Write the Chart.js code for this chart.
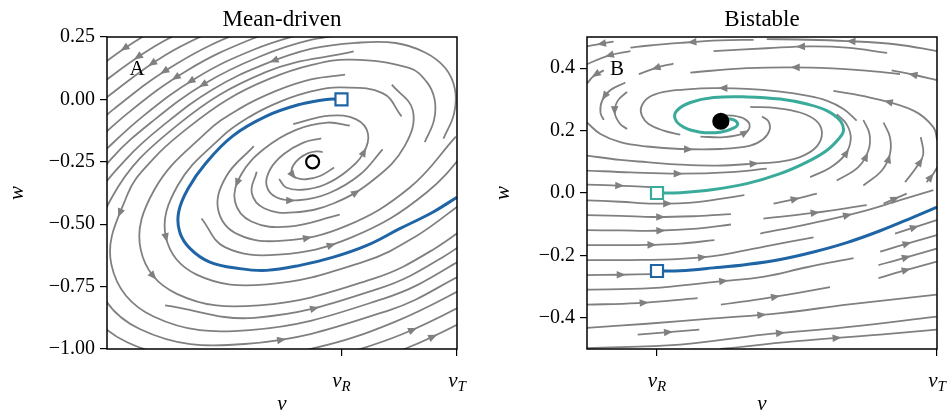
<!DOCTYPE html>
<html>
<head>
<meta charset="utf-8">
<script src="https://cdn.jsdelivr.net/npm/chart.js@4.4.1/dist/chart.umd.min.js"></script>
<style>
  html, body { margin: 0; padding: 0; background: #fff; }
  #wrap { position: relative; width: 949px; height: 416px; overflow: hidden; }
  canvas { position: absolute; top: 0; }
</style>
</head>
<body>
<div id="wrap">
  <canvas id="left" width="474" height="416" style="left:0"></canvas>
  <canvas id="right" width="475" height="416" style="left:474px"></canvas>
</div>
<script>
/* ── ticks ─────────────────────────────────────────── */
const leftYTicks  = [-1, -0.75, -0.5, -0.25, 0, 0.25];
const rightYTicks = [-0.4, -0.2, 0, 0.2, 0.4];
const xTickValues = [0, 1];            // v_R, v_T
const xTickSubs   = ['R', 'T'];

/* ── left panel: mean-driven ───────────────────────── */
const leftFixedPoint = [[-0.25, -0.25]];
const leftStart = [[0, 0]];
const leftTrajectory = [[0,0],[-0.13,0],[-0.36,-0.02],[-0.65,-0.067],[-0.94,-0.146],[-1.17,-0.253],[-1.33,-0.359],[-1.41,-0.452],[-1.40,-0.532],[-1.31,-0.598],[-1.14,-0.652],[-0.88,-0.678],[-0.65,-0.685],[-0.36,-0.665],[-0.07,-0.632],[0.22,-0.585],[0.50,-0.519],[0.79,-0.452],[1.0,-0.392]];
const leftStreams = [
  [[-0.163,-0.211],[-0.216,-0.208],[-0.288,-0.215],[-0.363,-0.236],[-0.417,-0.264],[-0.432,-0.293],[-0.393,-0.314],[-0.307,-0.320],[-0.186,-0.307],[-0.064,-0.273]],
  [[-0.540,-0.319],[-0.480,-0.353],[-0.340,-0.362],[-0.148,-0.342],[0.048,-0.287],[0.191,-0.214],[0.229,-0.137],[0.128,-0.080],[-0.101,-0.065],[-0.418,-0.099]],
  [[-0.175,-0.156],[-0.335,-0.174],[-0.499,-0.219],[-0.617,-0.280],[-0.649,-0.344],[-0.565,-0.392],[-0.374,-0.404],[-0.110,-0.376],[0.161,-0.301],[0.356,-0.200]],
  [[-0.734,-0.290],[-0.777,-0.375],[-0.666,-0.437],[-0.414,-0.453],[-0.065,-0.416],[0.291,-0.317],[0.549,-0.185],[0.618,-0.045],[0.436,0.059]],
  [[0.072,-0.105],[-0.123,-0.093],[-0.393,-0.122],[-0.669,-0.198],[-0.868,-0.301],[-0.922,-0.409],[-0.780,-0.489],[-0.459,-0.510],[-0.015,-0.462]],
  [[-0.759,-0.187],[-1.001,-0.311],[-1.067,-0.443],[-0.896,-0.541],[-0.504,-0.566],[0.036,-0.508],[0.589,-0.354],[0.990,-0.149]],
  [[-1.212,-0.477],[-1.010,-0.592],[-0.550,-0.622],[0.087,-0.553],[0.739,-0.372],[1.21,-0.131]],
  [[0.520,-0.068],[0.359,0.024],[-0.010,0.048],[-0.254,0.033],[-0.520,-0.007],[-0.789,-0.068],[-1.041,-0.152],[-1.419,-0.346],[-1.521,-0.550],[-1.254,-0.702],[-0.646,-0.741],[0.195,-0.650],[0.639,-0.550],[1.056,-0.411]],
  [[0.031,0.099],[-0.255,0.081],[-0.566,0.034],[-0.881,-0.037],[-1.177,-0.135],[-1.620,-0.362],[-1.738,-0.602],[-1.426,-0.779],[-0.713,-0.825],[0.271,-0.719],[0.792,-0.602],[1.279,-0.439]],
  [[-1.527,-0.825],[-0.753,-0.875],[0.316,-0.759],[0.880,-0.631],[1.41,-0.455]],
  [[0.721,-0.171],[0.801,-0.083],[0.806,0.000],[0.736,0.071],[0.585,0.126],[0.079,0.159],[-0.256,0.138],[-0.620,0.083],[-0.989,-0.001],[-1.335,-0.116],[-1.633,-0.240],[-1.853,-0.381],[-1.992,-0.662],[-1.627,-0.870],[-0.793,-0.924],[0.360,-0.799],[0.969,-0.661],[1.541,-0.471]],
  [[0.106,0.192],[-0.651,0.110],[-1.426,-0.105],[-1.987,-0.392],[-2.138,-0.696],[-1.742,-0.921],[-0.838,-0.980],[0.411,-0.845],[1.071,-0.696]],
  [[0.883,-0.157],[0.975,-0.056],[0.982,0.041],[0.900,0.125],[0.724,0.188],[0.469,0.226],[0.134,0.227],[-0.257,0.203],[-0.681,0.138],[-1.112,0.041],[-1.517,-0.094],[-1.864,-0.239],[-2.120,-0.403],[-2.283,-0.730],[-1.856,-0.973],[-0.883,-1.036],[-0.239,-0.997],[0.462,-0.891],[1.173,-0.730]],
  [[0.165,0.265],[-0.257,0.239],[-0.716,0.170],[-1.182,0.064],[-1.618,-0.081],[-1.993,-0.238],[-2.271,-0.415]],
  [[-0.238,-1.057],[0.519,-0.942],[1.287,-0.769]],
  [[-0.258,0.275],[-0.751,0.201],[-1.251,0.088],[-1.720,-0.068],[-2.123,-0.237]],
  [[-0.237,-1.117],[0.577,-0.994],[1.401,-0.807]],
  [[-0.259,0.320],[-0.793,0.239],[-1.336,0.116],[-1.844,-0.053],[-2.281,-0.236]],
  [[-0.26,0.364],[-0.836,0.277],[-1.420,0.145],[-1.969,-0.038],[-2.44,-0.235]],
  [[-0.886,0.322],[-1.520,0.179],[-2.115,-0.020]],
  [[-0.936,0.367],[-1.620,0.212],[-2.263,-0.001]],
  [[-0.99,0.416],[-1.728,0.249],[-2.421,0.018]]
];

/* ── right panel: bistable ─────────────────────────── */
const rightFixedPoint = [[0.228, 0.23]];
const rightStartTeal = [[0, 0]];
const rightStartBlue = [[0, -0.25]];
const rightTealTrajectory = [[0,0],[0.083,0.001],[0.202,0.011],[0.321,0.030],[0.440,0.062],[0.535,0.099],[0.606,0.136],[0.654,0.179],[0.666,0.200],[0.654,0.232],[0.606,0.264],[0.535,0.285],[0.440,0.301],[0.321,0.308],[0.202,0.306],[0.119,0.290],[0.071,0.264],[0.065,0.237],[0.095,0.211],[0.155,0.195],[0.226,0.195],[0.273,0.208],[0.288,0.223],[0.262,0.237],[0.228,0.232]];
const rightBlueTrajectory = [[0,-0.25],[0.083,-0.249],[0.202,-0.240],[0.321,-0.229],[0.440,-0.213],[0.559,-0.189],[0.678,-0.159],[0.797,-0.121],[0.916,-0.077],[1.0,-0.045]];
const rightStreams = [
  [[-0.155,0.485],[-0.202,0.478],[-0.25,0.470]],
  [[0.345,0.491],[0.226,0.489],[0.083,0.481],[-0.036,0.472],[-0.095,0.466]],
  [[0.822,0.449],[0.678,0.466],[0.547,0.470],[0.392,0.464],[0.202,0.455]],
  [[1.0,0.455],[0.856,0.476],[0.678,0.487],[0.499,0.492],[0.392,0.493]],
  [[0.059,0.415],[0,0.402],[-0.065,0.381]],
  [[0.868,0.381],[0.737,0.393],[0.547,0.402],[0.321,0.400],[0.119,0.386]],
  [[0.999,0.362],[0.916,0.379],[0.838,0.393]],
  [[-0.095,0.455],[-0.178,0.439],[-0.25,0.413]],
  [[-0.190,0.393],[-0.226,0.375],[-0.25,0.351]],
  [[-0.113,0.354],[-0.166,0.330],[-0.196,0.296],[-0.202,0.258],[-0.190,0.234]],
  [[-0.107,0.324],[-0.140,0.296],[-0.151,0.258],[-0.133,0.223],[-0.107,0.205]],
  [[-0.25,0.120],[-0.131,0.106],[-0.036,0.099],[0.083,0.091],[0.214,0.088],[0.345,0.094],[0.452,0.102],[0.523,0.120],[0.573,0.152],[0.589,0.195],[0.568,0.232],[0.511,0.258],[0.428,0.272],[0.333,0.276]],
  [[-0.25,0.226],[-0.202,0.189],[-0.131,0.163],[-0.036,0.149],[0.083,0.141],[0.226,0.141],[0.333,0.152],[0.380,0.173],[0.402,0.202],[0.398,0.230],[0.375,0.245]],
  [[0.155,0.181],[0.238,0.179],[0.309,0.191],[0.331,0.213],[0.315,0.236],[0.268,0.248],[0.214,0.248]],
  [[0.713,0.232],[0.666,0.269],[0.606,0.296],[0.535,0.312],[0.440,0.325],[0.321,0.334],[0.202,0.336],[0.107,0.332],[0.024,0.324],[-0.030,0.306],[-0.056,0.276],[-0.054,0.248],[-0.030,0.221],[0.024,0.200],[0.083,0.187]],
  [[1.001,0.168],[0.987,0.211],[0.916,0.264],[0.761,0.306],[0.630,0.327]],
  [[0.547,0.051],[0.618,0.081],[0.672,0.123],[0.692,0.173],[0.678,0.219],[0.642,0.253]],
  [[0.642,0.040],[0.719,0.083],[0.755,0.136],[0.759,0.189],[0.737,0.234]],
  [[0.737,0.024],[0.803,0.072],[0.832,0.125],[0.832,0.179],[0.809,0.226]],
  [[0.886,0.035],[0.927,0.083],[0.951,0.125],[0.942,0.179]],
  [[0.963,0.035],[0.987,0.062],[1.001,0.083]],
  [[-0.25,0.072],[-0.095,0.066],[0.083,0.062],[0.262,0.067],[0.392,0.078]],
  [[-0.25,0.027],[-0.119,0.023],[-0.024,0.019]],
  [[-0.259,-0.023],[-0.131,-0.028],[-0.010,-0.034],[0.143,-0.029],[0.312,-0.007]],
  [[-0.259,-0.071],[-0.131,-0.073],[-0.010,-0.077],[0.143,-0.074],[0.264,-0.068]],
  [[-0.259,-0.119],[-0.131,-0.120],[-0.010,-0.121],[0.143,-0.114],[0.264,-0.101]],
  [[-0.259,-0.167],[-0.155,-0.167],[-0.069,-0.167],[0.083,-0.162],[0.205,-0.151]],
  [[-0.259,-0.215],[-0.095,-0.215],[0.083,-0.211],[0.226,-0.199],[0.383,-0.172],[0.559,-0.142]],
  [[-0.259,-0.263],[-0.131,-0.262],[-0.018,-0.260]],
  [[-0.259,-0.310],[-0.021,-0.305],[0.216,-0.284],[0.383,-0.268],[0.535,-0.238],[0.702,-0.209]],
  [[-0.259,-0.358],[-0.069,-0.353],[0.145,-0.337]],
  [[0.228,-0.358],[0.369,-0.340],[0.499,-0.321],[0.618,-0.302]],
  [[-0.259,-0.433],[-0.036,-0.419],[0.202,-0.402],[0.440,-0.385],[0.678,-0.358],[0.999,-0.326]],
  [[-0.069,-0.454],[0.151,-0.438]],
  [[-0.25,-0.497],[0.083,-0.486],[0.380,-0.454],[0.678,-0.430],[0.999,-0.396]],
  [[0.226,-0.500],[0.499,-0.475],[0.797,-0.454],[0.999,-0.438]],
  [[0.416,-0.034],[0.476,-0.023],[0.571,-0.002]],
  [[0.809,-0.034],[0.892,-0.002]],
  [[0.380,-0.082],[0.559,-0.064],[0.749,-0.039]],
  [[0.369,-0.130],[0.547,-0.098],[0.725,-0.061],[0.868,-0.023],[0.987,0.009]],
  [[0.850,-0.130],[0.916,-0.111],[0.999,-0.087]],
  [[0.797,-0.188],[0.856,-0.172],[0.999,-0.135]],
  [[0.791,-0.231],[0.856,-0.215],[0.999,-0.178]],
  [[0.791,-0.273],[0.850,-0.257],[0.999,-0.220]]
];

/* ── styling ───────────────────────────────────────── */
const GRAY = '#808080';
const BLUE = '#1f64a5';
const TEAL = '#3aab9b';
const SERIF = '"Liberation Serif", "DejaVu Serif", serif';

const toXY = pts => pts.map(p => ({ x: p[0], y: p[1] }));
const fmt = (v, d) => (v < 0 ? '\u2212' : '') + Math.abs(v).toFixed(d);

// arrowhead in the middle of the visible part of each streamline
const arrows = {
  id: 'arrows',
  afterDatasetDraw(chart, args) {
    const ds = chart.data.datasets[args.index];
    if (!ds.arrow) return;
    const a = chart.chartArea;
    const pts = args.meta.data;
    const samples = [];
    for (let i = 0; i < pts.length - 1; i++) {
      const p0 = pts[i], p1 = pts[i + 1];
      const c1x = p0.cp2x ?? p0.x, c1y = p0.cp2y ?? p0.y;
      const c2x = p1.cp1x ?? p1.x, c2y = p1.cp1y ?? p1.y;
      for (let s = 0; s < 20; s++) {
        const t = s / 20, u = 1 - t;
        samples.push([
          u*u*u*p0.x + 3*u*u*t*c1x + 3*u*t*t*c2x + t*t*t*p1.x,
          u*u*u*p0.y + 3*u*u*t*c1y + 3*u*t*t*c2y + t*t*t*p1.y
        ]);
      }
    }
    const last = pts[pts.length - 1];
    samples.push([last.x, last.y]);
    const inside = p => p[0] > a.left + 2 && p[0] < a.right - 2 && p[1] > a.top + 2 && p[1] < a.bottom - 2;
    let best = [], run = [];
    samples.forEach(p => {
      if (inside(p)) run.push(p);
      else { if (run.length > best.length) best = run; run = []; }
    });
    if (run.length > best.length) best = run;
    if (best.length < 3) return;
    let total = 0;
    const seg = [];
    for (let i = 1; i < best.length; i++) {
      const l = Math.hypot(best[i][0] - best[i-1][0], best[i][1] - best[i-1][1]);
      seg.push(l); total += l;
    }
    if (total < 12) return;
    let acc = 0, k = 0;
    while (k < seg.length - 1 && acc + seg[k] < total / 2) { acc += seg[k]; k++; }
    const f = seg[k] ? (total / 2 - acc) / seg[k] : 0;
    const px = best[k][0] + f * (best[k+1][0] - best[k][0]);
    const py = best[k][1] + f * (best[k+1][1] - best[k][1]);
    let dx = best[k+1][0] - best[k][0], dy = best[k+1][1] - best[k][1];
    const n = Math.hypot(dx, dy) || 1; dx /= n; dy /= n;
    const L = 9, W = 3.8;
    const ctx = chart.ctx;
    ctx.save();
    ctx.fillStyle = GRAY;
    ctx.beginPath();
    ctx.moveTo(px + dx * L / 2, py + dy * L / 2);
    ctx.lineTo(px - dx * L / 2 - dy * W, py - dy * L / 2 + dx * W);
    ctx.lineTo(px - dx * L / 2 + dy * W, py - dy * L / 2 - dx * W);
    ctx.closePath();
    ctx.fill();
    ctx.restore();
  }
};

// frame, titles, panel letter, subscripted x tick labels, axis labels
const decor = {
  id: 'decor',
  afterDraw(chart, args, o) {
    const { ctx, chartArea: a, scales } = chart;
    ctx.save();
    ctx.strokeStyle = '#000';
    ctx.lineWidth = 1.5;
    ctx.strokeRect(a.left, a.top, a.right - a.left, a.bottom - a.top);
    ctx.fillStyle = '#000';
    ctx.textBaseline = 'alphabetic';
    ctx.textAlign = 'center';
    ctx.font = `23px ${SERIF}`;
    ctx.fillText(o.title, (a.left + a.right) / 2, 26);
    ctx.font = `21px ${SERIF}`;
    ctx.fillText(o.letter, a.left + 30, a.top + 38);

    xTickValues.forEach((v, i) => {
      const x = scales.x.getPixelForValue(v);
      ctx.font = `italic 21px ${SERIF}`;
      const w1 = ctx.measureText('v').width;
      ctx.font = `italic 15px ${SERIF}`;
      const w2 = ctx.measureText(xTickSubs[i]).width;
      const x0 = x - (w1 + w2) / 2;
      ctx.textAlign = 'left';
      ctx.font = `italic 21px ${SERIF}`;
      ctx.fillText('v', x0, a.bottom + 38);
      ctx.font = `italic 15px ${SERIF}`;
      ctx.fillText(xTickSubs[i], x0 + w1, a.bottom + 42);
    });

    ctx.textAlign = 'center';
    ctx.font = `italic 21px ${SERIF}`;
    ctx.fillText('v', (a.left + a.right) / 2, a.bottom + 61);
    ctx.translate(o.yLabelX, (a.top + a.bottom) / 2);
    ctx.rotate(-Math.PI / 2);
    ctx.textBaseline = 'middle';
    ctx.fillText('w', 0, 0);
    ctx.restore();
  }
};

function streamSets(streams) {
  return streams.map(s => ({
    data: toXY(s),
    showLine: true,
    borderColor: GRAY,
    borderWidth: 1.8,
    pointRadius: 0,
    pointHoverRadius: 0,
    tension: 0.4,
    borderJoinStyle: 'round',
    order: 3,
    arrow: true,
  }));
}

function trajSet(pts, color) {
  return {
    data: toXY(pts), showLine: true, borderColor: color, borderWidth: 3,
    pointRadius: 0, pointHoverRadius: 0, tension: 0.4, order: 1,
  };
}

function markerSet(pts, style, radius, edge, fill) {
  return {
    data: toXY(pts), showLine: false, pointStyle: style, pointRadius: radius,
    pointHoverRadius: radius, borderColor: edge, backgroundColor: fill,
    pointBorderWidth: 2.2, order: 0,
  };
}

function makePanel(id, p) {
  return new Chart(document.getElementById(id), {
    type: 'scatter',
    data: { datasets: p.datasets },
    options: {
      responsive: false,
      animation: false,
      events: [],
      layout: { padding: { left: 0, right: p.padRight, top: 37, bottom: 0 } },
      elements: { line: { capBezierPoints: false } },
      plugins: {
        legend: { display: false },
        tooltip: { enabled: false },
        decor: { title: p.title, letter: p.letter, yLabelX: p.yLabelX },
      },
      scales: {
        x: {
          type: 'linear', min: p.xMin, max: 1,
          afterBuildTicks: s => { s.ticks = xTickValues.map(v => ({ value: v })); },
          afterFit: s => { s.height = 67; },
          ticks: { callback: () => '', autoSkip: false },
          grid: { drawOnChartArea: false, drawTicks: true, tickLength: 7, color: '#000', lineWidth: 1.2 },
          border: { display: false },
        },
        y: {
          type: 'linear', min: p.yMin, max: p.yMax,
          afterBuildTicks: s => { s.ticks = p.yTicks.map(v => ({ value: v })); },
          afterFit: s => { s.width = p.yAxisWidth; },
          ticks: {
            autoSkip: false, color: '#000', padding: 5,
            font: { family: SERIF, size: 20 },
            callback: v => fmt(v, p.decimals),
          },
          grid: { drawOnChartArea: false, drawTicks: true, tickLength: 7, color: '#000', lineWidth: 1.2 },
          border: { display: false },
        },
      },
    },
    plugins: [arrows, decor],
  });
}

makePanel('left', {
  title: 'Mean-driven', letter: 'A', yLabelX: 17,
  xMin: -2.03, yMin: -1, yMax: 0.25, yTicks: leftYTicks, decimals: 2,
  yAxisWidth: 107, padRight: 17,
  datasets: [
    markerSet(leftStart, 'rect', 8.5, BLUE, '#fff'),
    markerSet(leftFixedPoint, 'circle', 6.5, '#000', '#fff'),
    trajSet(leftTrajectory, BLUE),
    ...streamSets(leftStreams),
  ],
});

makePanel('right', {
  title: 'Bistable', letter: 'B', yLabelX: 29,
  xMin: -0.25, yMin: -0.5, yMax: 0.5, yTicks: rightYTicks, decimals: 1,
  yAxisWidth: 113, padRight: 12,
  datasets: [
    markerSet(rightStartTeal, 'rect', 8.5, TEAL, '#fff'),
    markerSet(rightStartBlue, 'rect', 8.5, BLUE, '#fff'),
    markerSet(rightFixedPoint, 'circle', 7.5, '#000', '#000'),
    trajSet(rightTealTrajectory, TEAL),
    trajSet(rightBlueTrajectory, BLUE),
    ...streamSets(rightStreams),
  ],
});
</script>
</body>
</html>
